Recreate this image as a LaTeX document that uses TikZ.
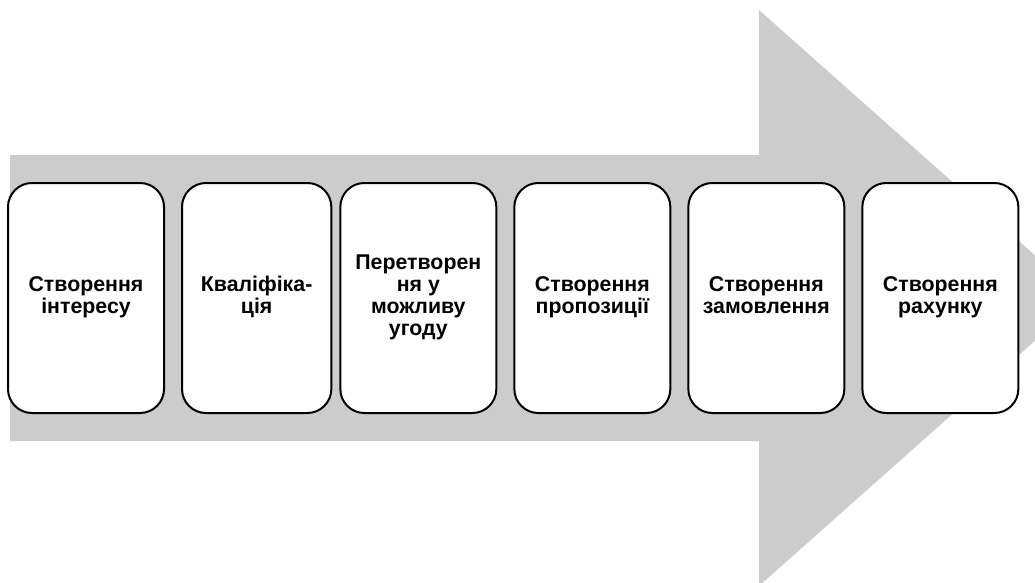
\documentclass[tikz,border=0pt]{standalone}
\usepackage{fontspec}
\setmainfont{Liberation Sans}
\usetikzlibrary{positioning}

\begin{document}
\begin{tikzpicture}[
        x=0.75pt, y=-0.75pt,
        node distance=0pt and 13.5pt,
        stage/.style={
            draw,
            rounded corners=18pt,
            line width=1.5pt,
            fill=white,
            align=center,
            inner sep=2pt,
            outer sep=0pt,
            minimum width=117pt,
            minimum height=172.5pt,
            execute at begin node=\strut,
            execute at end node=\strut,
            font=\fontsize{16pt}{16.5pt}\selectfont\bfseries
        },
        bigarrow/.style={fill=gray!40, draw=none}
    ]
        \useasboundingbox (0,0) rectangle (1035,582);

        % Велика стрілка на фоні
        \begin{scope}
            \clip (0,0) rectangle (1035,582);
            \fill[bigarrow] (10,155) -- (759,155) -- (759,10) -- (1083,298)
                -- (759,586) -- (759,441) -- (10,441) -- cycle;
        \end{scope}

        % Етапи процесу
        \node[stage, anchor=north west] (interest) at (8,183) {Створення\\інтересу};
        \node[stage, minimum width=112pt, right=of interest] (qualify) {Кваліфіка-\\ція};
        \node[stage, right=6.75pt of qualify] (deal) {Перетворен\\ня у\\можливу\\угоду};
        \node[stage, right=of deal] (proposal) {Створення\\пропозиції};
        \node[stage, right=of proposal] (order) {Створення\\замовлення};
        \node[stage, right=of order] (invoice) {Створення\\рахунку};
    \end{tikzpicture}
\end{document}
